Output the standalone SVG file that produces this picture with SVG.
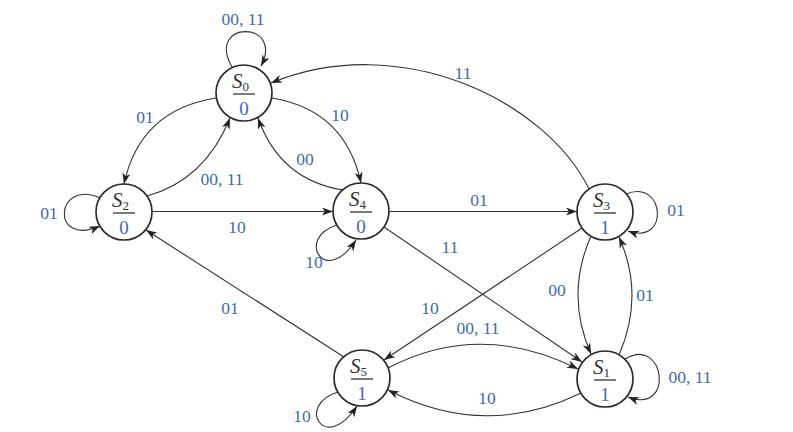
<svg xmlns="http://www.w3.org/2000/svg" width="793" height="432" viewBox="0 0 793 432">
<style>
.node{fill:#fff;stroke:#2a2a2a;stroke-width:1.7}
.e{fill:none;stroke:#333;stroke-width:1.1;marker-end:url(#ah)}
.lb{font-family:"Liberation Serif","DejaVu Serif",serif;font-size:17.5px;fill:#4267b2;text-anchor:middle}
.st{font-family:"Liberation Serif","DejaVu Serif",serif;font-size:21px;font-style:italic;fill:#333}
.sub{font-size:13px;font-style:normal}
.out{font-family:"Liberation Serif","DejaVu Serif",serif;font-size:19px;fill:#4267b2;text-anchor:middle}
.bar{stroke:#333;stroke-width:1.3}
</style>
<defs>
<marker id="ah" markerUnits="userSpaceOnUse" markerWidth="12" markerHeight="8" refX="11" refY="4" orient="auto">
<path d="M0,0 L11,4 L0,8 L3,4 z" fill="#222"/>
</marker>
</defs>
<rect width="793" height="432" fill="#fff"/>
<g id="connectors">
<path class="e" d="M232,67 C205,20 285,20 261,66"/>
<path class="e" d="M216,98 Q140,110 124,184"/>
<path class="e" d="M147,196 Q205,180 230,118"/>
<path class="e" d="M272,98 Q345,110 361,183"/>
<path class="e" d="M343,190 Q280,180 258,118"/>
<path class="e" d="M152,211.5 L333,211.5"/>
<path class="e" d="M389,211.5 L577,211.5"/>
<path class="e" d="M337,225 C295,238 325,288 356,240"/>
<path class="e" d="M589,189 C545,100 400,30 271,83"/>
<path class="e" d="M626,194 C665,178 670,246 628,231"/>
<path class="e" d="M591,236 Q565,295 591,354"/>
<path class="e" d="M619,355 Q645,295 619,237"/>
<path class="e" d="M582,228 L384,360"/>
<path class="e" d="M384,227 L582,362"/>
<path class="e" d="M388,368 Q480,320 578,369"/>
<path class="e" d="M581,393 Q485,440 388,390"/>
<path class="e" d="M344,357 L146,230"/>
<path class="e" d="M338,392 C295,405 325,455 357,406"/>
<path class="e" d="M100,198 C55,178 50,248 100,226"/>
<path class="e" d="M625,359 C665,335 675,415 628,397"/>
</g>
<g id="labels">
<text class="lb" x="243" y="25">00, 11</text>
<text class="lb" x="145" y="123">01</text>
<text class="lb" x="340" y="121">10</text>
<text class="lb" x="305" y="165">00</text>
<text class="lb" x="222" y="185">00, 11</text>
<text class="lb" x="237" y="233">10</text>
<text class="lb" x="479" y="206">01</text>
<text class="lb" x="463" y="79">11</text>
<text class="lb" x="450" y="253">11</text>
<text class="lb" x="676" y="216">01</text>
<text class="lb" x="557" y="296">00</text>
<text class="lb" x="645" y="301">01</text>
<text class="lb" x="430" y="314">10</text>
<text class="lb" x="478" y="334">00, 11</text>
<text class="lb" x="230" y="314">01</text>
<text class="lb" x="487" y="404">10</text>
<text class="lb" x="314" y="268">10</text>
<text class="lb" x="302" y="422">10</text>
<text class="lb" x="49" y="219">01</text>
<text class="lb" x="690" y="383">00, 11</text>
</g>
<g id="S0">
<circle class="node" cx="244" cy="93" r="28"/>
<text class="st" x="232" y="88">S<tspan class="sub" dy="3">0</tspan></text>
<line class="bar" x1="233" y1="94" x2="255" y2="94"/>
<text class="out" x="244" y="115">0</text>
</g>
<g id="S2">
<circle class="node" cx="124" cy="212" r="28"/>
<text class="st" x="112" y="207">S<tspan class="sub" dy="3">2</tspan></text>
<line class="bar" x1="113" y1="213" x2="135" y2="213"/>
<text class="out" x="124" y="234">0</text>
</g>
<g id="S4">
<circle class="node" cx="361" cy="211" r="28"/>
<text class="st" x="349" y="206">S<tspan class="sub" dy="3">4</tspan></text>
<line class="bar" x1="350" y1="212" x2="372" y2="212"/>
<text class="out" x="361" y="233">0</text>
</g>
<g id="S3">
<circle class="node" cx="605" cy="212" r="28"/>
<text class="st" x="593" y="207">S<tspan class="sub" dy="3">3</tspan></text>
<line class="bar" x1="594" y1="213" x2="616" y2="213"/>
<text class="out" x="605" y="234">1</text>
</g>
<g id="S5">
<circle class="node" cx="362" cy="378" r="28"/>
<text class="st" x="350" y="373">S<tspan class="sub" dy="3">5</tspan></text>
<line class="bar" x1="351" y1="379" x2="373" y2="379"/>
<text class="out" x="362" y="400">1</text>
</g>
<g id="S1">
<circle class="node" cx="605" cy="379" r="28"/>
<text class="st" x="593" y="374">S<tspan class="sub" dy="3">1</tspan></text>
<line class="bar" x1="594" y1="380" x2="616" y2="380"/>
<text class="out" x="605" y="401">1</text>
</g>
</svg>
